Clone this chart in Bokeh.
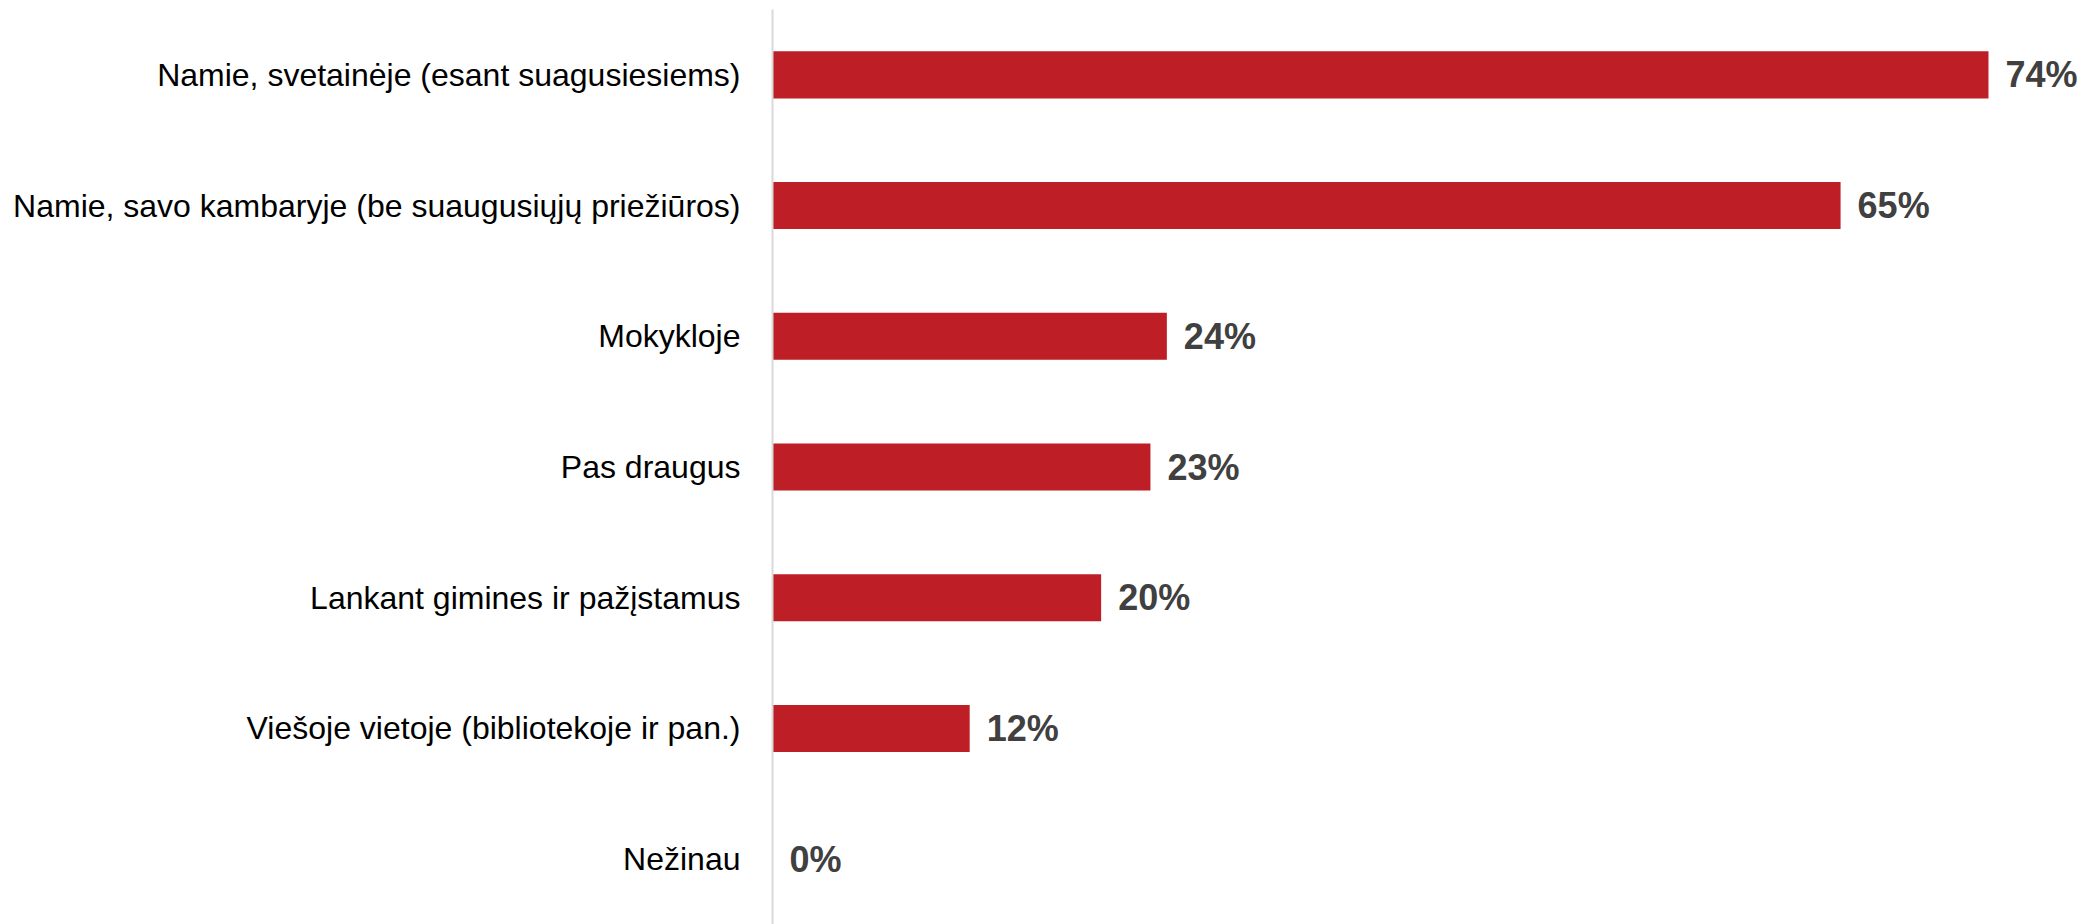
from bokeh.plotting import figure
from bokeh.models import FactorRange, Range1d, ColumnDataSource
from bokeh.core.properties import value
from bokeh.embed import file_html
from bokeh.resources import INLINE

categories = [
    "Namie, svetainėje (esant suagusiesiems)",
    "Namie, savo kambaryje (be suaugusiųjų priežiūros)",
    "Mokykloje",
    "Pas draugus",
    "Lankant gimines ir pažįstamus",
    "Viešoje vietoje (bibliotekoje ir pan.)",
    "Nežinau",
]
values = [74, 65, 24, 23, 20, 12, 0]
labels = [f"{v}%" for v in values]

src = ColumnDataSource(dict(cat=categories, val=values, lab=labels))

p = figure(
    width=2080, height=924,
    y_range=FactorRange(factors=list(reversed(categories)), range_padding=0),
    x_range=Range1d(0, 79.6),
    output_backend="svg", toolbar_location=None,
    min_border_left=772, min_border_right=0, min_border_top=9, min_border_bottom=0,
)
p.outline_line_color = None
p.xgrid.visible = False
p.ygrid.visible = False
p.xaxis.visible = False

p.hbar(y="cat", right="val", left=0, height=0.36, source=src,
       fill_color="#BE1F26", line_color=None)

p.text(x="val", y="cat", text="lab", source=src, x_offset=17,
       text_baseline="middle", text_align="left",
       text_font=value("Liberation Sans"), text_font_style="bold",
       text_font_size="36px", text_color="#404040")

ax = p.yaxis[0]
ax.major_tick_line_color = None
ax.minor_tick_line_color = None
ax.axis_line_color = "#d9d9d9"
ax.axis_line_width = 2
ax.major_label_standoff = 26
ax.major_label_text_font = "Liberation Sans"
ax.major_label_text_font_size = "32px"
ax.major_label_text_color = "#000000"

open("out.html", "w").write(file_html(p, INLINE))
